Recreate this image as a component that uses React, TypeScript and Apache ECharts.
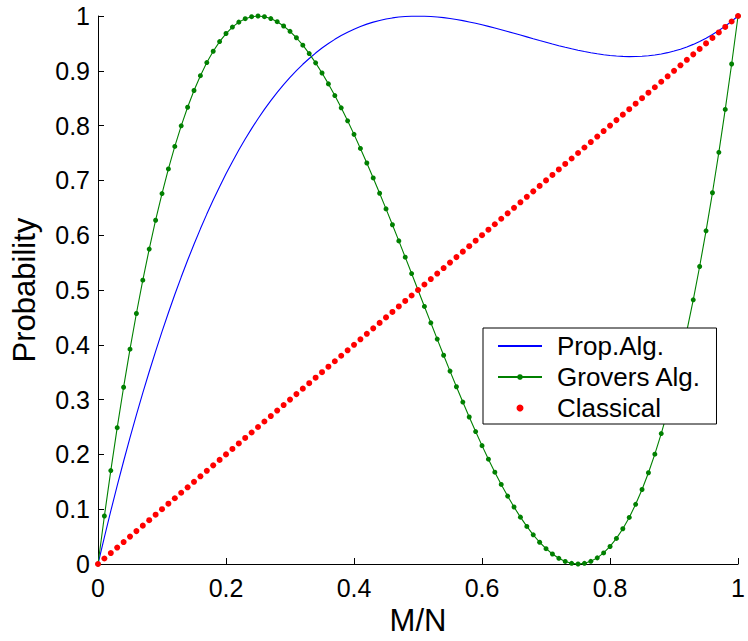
import React, { useEffect, useRef } from "react";
import * as echarts from "echarts";

// M/N values (x axis)
const mn = [
  0, 0.01, 0.02, 0.03, 0.04, 0.05, 0.06, 0.07, 0.08, 0.09,
  0.1, 0.11, 0.12, 0.13, 0.14, 0.15, 0.16, 0.17, 0.18, 0.19,
  0.2, 0.21, 0.22, 0.23, 0.24, 0.25, 0.26, 0.27, 0.28, 0.29,
  0.3, 0.31, 0.32, 0.33, 0.34, 0.35, 0.36, 0.37, 0.38, 0.39,
  0.4, 0.41, 0.42, 0.43, 0.44, 0.45, 0.46, 0.47, 0.48, 0.49,
  0.5, 0.51, 0.52, 0.53, 0.54, 0.55, 0.56, 0.57, 0.58, 0.59,
  0.6, 0.61, 0.62, 0.63, 0.64, 0.65, 0.66, 0.67, 0.68, 0.69,
  0.7, 0.71, 0.72, 0.73, 0.74, 0.75, 0.76, 0.77, 0.78, 0.79,
  0.8, 0.81, 0.82, 0.83, 0.84, 0.85, 0.86, 0.87, 0.88, 0.89,
  0.9, 0.91, 0.92, 0.93, 0.94, 0.95, 0.96, 0.97, 0.98, 0.99,
  1,
];

// Prop.Alg. probability
const propAlg = [
  0, 0.0492, 0.0968, 0.1429, 0.1875, 0.2305, 0.2721, 0.3122, 0.3508, 0.3881,
  0.424, 0.4585, 0.4917, 0.5236, 0.5542, 0.5835, 0.6116, 0.6385, 0.6641, 0.6886,
  0.712, 0.7342, 0.7554, 0.7755, 0.7945, 0.8125, 0.8295, 0.8455, 0.8606, 0.8748,
  0.888, 0.9004, 0.9119, 0.9225, 0.9324, 0.9415, 0.9498, 0.9574, 0.9643, 0.9705,
  0.976, 0.9809, 0.9852, 0.9888, 0.9919, 0.9945, 0.9965, 0.9981, 0.9992, 0.9998,
  1, 0.9998, 0.9992, 0.9983, 0.9971, 0.9955, 0.9937, 0.9916, 0.9892, 0.9867,
  0.984, 0.9811, 0.9781, 0.975, 0.9718, 0.9685, 0.9652, 0.9619, 0.9585, 0.9552,
  0.952, 0.9488, 0.9458, 0.9429, 0.9401, 0.9375, 0.9351, 0.9329, 0.931, 0.9294,
  0.928, 0.927, 0.9263, 0.9259, 0.926, 0.9265, 0.9274, 0.9288, 0.9307, 0.9331,
  0.936, 0.9395, 0.9436, 0.9482, 0.9535, 0.9595, 0.9661, 0.9735, 0.9816, 0.9904,
  1,
];

// Grovers Alg. probability
const grovers = [
  0, 0.0876, 0.1705, 0.2488, 0.3226, 0.392, 0.4571, 0.5179, 0.5746, 0.6273,
  0.676, 0.7209, 0.762, 0.7996, 0.8335, 0.864, 0.8911, 0.915, 0.9357, 0.9533,
  0.968, 0.9798, 0.9888, 0.9951, 0.9988, 1, 0.9988, 0.9953, 0.9896, 0.9818,
  0.972, 0.9603, 0.9467, 0.9314, 0.9145, 0.896, 0.8761, 0.8548, 0.8324, 0.8087,
  0.784, 0.7583, 0.7318, 0.7045, 0.6765, 0.648, 0.619, 0.5896, 0.5599, 0.53,
  0.5, 0.47, 0.4401, 0.4104, 0.381, 0.352, 0.3235, 0.2955, 0.2682, 0.2417,
  0.216, 0.1913, 0.1676, 0.1452, 0.1239, 0.104, 0.0855, 0.0686, 0.0533, 0.0397,
  0.028, 0.0182, 0.0104, 0.0047, 0.0012, 0, 0.0012, 0.0049, 0.0112, 0.0202,
  0.032, 0.0467, 0.0643, 0.085, 0.1089, 0.136, 0.1665, 0.2004, 0.238, 0.2791,
  0.324, 0.3727, 0.4254, 0.4821, 0.5429, 0.608, 0.6774, 0.7512, 0.8295, 0.9124,
  1,
];

// Classical probability
const classical = [
  0, 0.01, 0.02, 0.03, 0.04, 0.05, 0.06, 0.07, 0.08, 0.09,
  0.1, 0.11, 0.12, 0.13, 0.14, 0.15, 0.16, 0.17, 0.18, 0.19,
  0.2, 0.21, 0.22, 0.23, 0.24, 0.25, 0.26, 0.27, 0.28, 0.29,
  0.3, 0.31, 0.32, 0.33, 0.34, 0.35, 0.36, 0.37, 0.38, 0.39,
  0.4, 0.41, 0.42, 0.43, 0.44, 0.45, 0.46, 0.47, 0.48, 0.49,
  0.5, 0.51, 0.52, 0.53, 0.54, 0.55, 0.56, 0.57, 0.58, 0.59,
  0.6, 0.61, 0.62, 0.63, 0.64, 0.65, 0.66, 0.67, 0.68, 0.69,
  0.7, 0.71, 0.72, 0.73, 0.74, 0.75, 0.76, 0.77, 0.78, 0.79,
  0.8, 0.81, 0.82, 0.83, 0.84, 0.85, 0.86, 0.87, 0.88, 0.89,
  0.9, 0.91, 0.92, 0.93, 0.94, 0.95, 0.96, 0.97, 0.98, 0.99,
  1,
];

const seriesNames = ["Prop.Alg.", "Grovers Alg.", "Classical"];
const xTickLabels = ["0", "0.2", "0.4", "0.6", "0.8", "1"];
const yTickLabels = ["0", "0.1", "0.2", "0.3", "0.4", "0.5", "0.6", "0.7", "0.8", "0.9", "1"];

const FONT = "'Liberation Sans', Arial, Helvetica, sans-serif";

export default function App() {
  const ref = useRef<HTMLDivElement>(null);

  useEffect(() => {
    if (!ref.current) return;
    const chart = echarts.init(ref.current, null, { renderer: "svg" });
    const pairs = (ys: number[]) => mn.map((x, i) => [x, ys[i]]);
    const fmt = (labels: string[], step: number) => (v: number) => {
      const idx = Math.round(v / step);
      return labels[idx] ?? "";
    };

    chart.setOption({
      animation: false,
      backgroundColor: "#ffffff",
      grid: { left: 98, right: 4, top: 16, bottom: 74, containLabel: false },
      xAxis: {
        type: "value",
        min: 0,
        max: 1,
        interval: 0.2,
        name: "M/N",
        nameLocation: "middle",
        nameGap: 41,
        nameTextStyle: { fontSize: 31, color: "#000", fontFamily: FONT },
        axisLine: { show: true, onZero: false, lineStyle: { color: "#000", width: 1 } },
        axisTick: { show: true, inside: true, length: 6, lineStyle: { color: "#000", width: 1 } },
        axisLabel: { fontSize: 25, color: "#000", margin: 11, fontFamily: FONT, formatter: fmt(xTickLabels, 0.2) },
        splitLine: { show: false },
      },
      yAxis: {
        type: "value",
        min: 0,
        max: 1,
        interval: 0.1,
        name: "Probability",
        nameLocation: "middle",
        nameGap: 58,
        nameTextStyle: { fontSize: 31, color: "#000", fontFamily: FONT },
        axisLine: { show: true, onZero: false, lineStyle: { color: "#000", width: 1 } },
        axisTick: { show: true, inside: true, length: 6, lineStyle: { color: "#000", width: 1 } },
        axisLabel: { fontSize: 25, color: "#000", margin: 8, fontFamily: FONT, formatter: fmt(yTickLabels, 0.1) },
        splitLine: { show: false },
      },
      legend: {
        orient: "vertical",
        left: 483,
        top: 328,
        padding: [5, 15, 3, 14],
        itemGap: 5,
        itemWidth: 44,
        itemHeight: 7,
        backgroundColor: "#ffffff",
        borderColor: "#000",
        borderWidth: 1,
        borderRadius: 0,
        selectedMode: false,
        textStyle: { fontSize: 26, color: "#000", fontFamily: FONT, lineHeight: 26, padding: [0, 0, 0, 10] },
        data: [
          { name: seriesNames[0], itemStyle: { opacity: 0 } },
          { name: seriesNames[1] },
          { name: seriesNames[2], itemStyle: { opacity: 1 } },
        ],
      },
      series: [
        {
          name: seriesNames[0],
          type: "line",
          data: pairs(propAlg),
          symbol: "none",
          showSymbol: false,
          lineStyle: { color: "#0000ff", width: 1.1 },
          itemStyle: { color: "#0000ff" },
          z: 2,
        },
        {
          name: seriesNames[1],
          type: "line",
          data: pairs(grovers),
          symbol: "circle",
          symbolSize: 5,
          showSymbol: true,
          showAllSymbol: true,
          lineStyle: { color: "#008000", width: 1.1 },
          itemStyle: { color: "#008000" },
          z: 3,
        },
        {
          name: seriesNames[2],
          type: "scatter",
          data: pairs(classical),
          symbol: "circle",
          symbolSize: 6,
          itemStyle: { color: "#ff0000", opacity: 1 },
          z: 4,
        },
      ],
    });
    return () => chart.dispose();
  }, []);

  return (
    <div
      ref={ref}
      style={{ position: "fixed", left: 0, top: 0, width: 748, height: 641 }}
    />
  );
}
